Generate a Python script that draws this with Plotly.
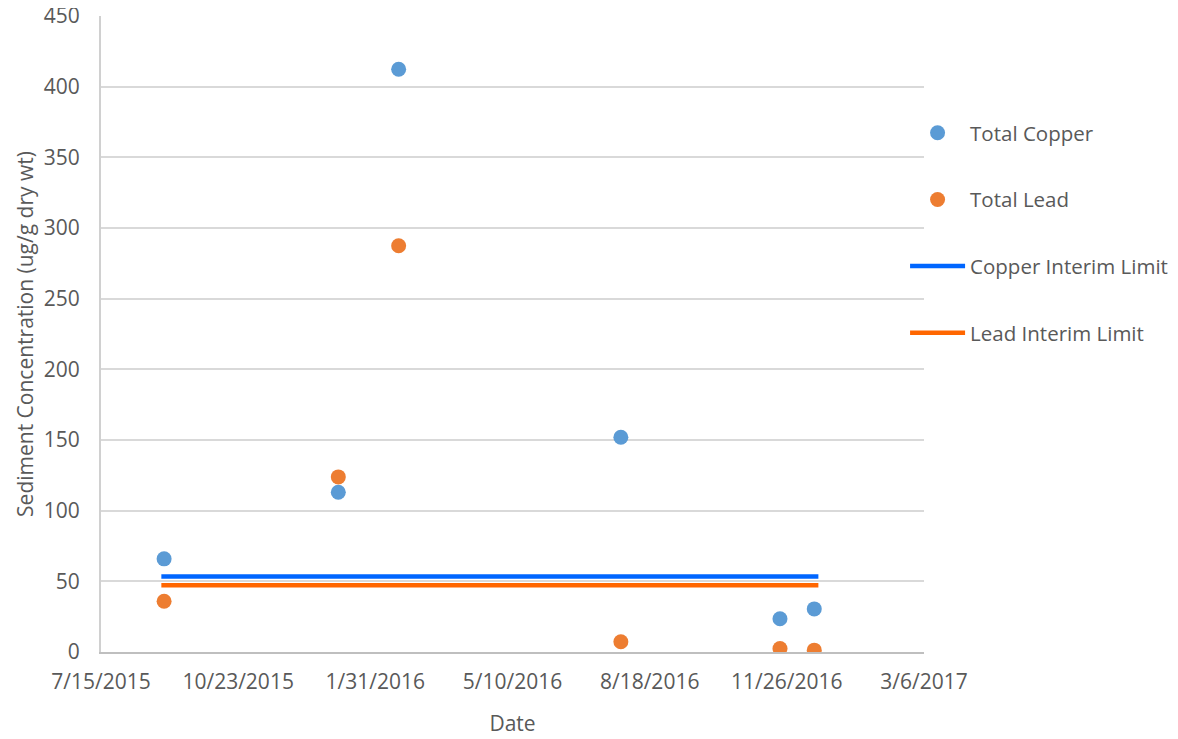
import plotly.graph_objects as go

# Data
sample_dates = ["2015-08-30", "2016-01-04", "2016-02-17", "2016-07-28", "2016-11-21", "2016-12-16"]
total_copper = [65.9, 113.0, 412.3, 151.9, 23.5, 30.5]
total_lead = [35.9, 123.9, 287.4, 7.2, 2.5, 1.3]

limit_dates = ["2015-08-28", "2016-12-19"]
copper_limit = [53.4, 53.4]
lead_limit = [47.2, 47.2]

tick_dates = ["2015-07-15", "2015-10-23", "2016-01-31", "2016-05-10", "2016-08-18", "2016-11-26", "2017-03-06"]
tick_labels = ["7/15/2015", "10/23/2015", "1/31/2016", "5/10/2016", "8/18/2016", "11/26/2016", "3/6/2017"]

FONT = "Open Sans"
TXT = "#595959"
FS = 21

fig = go.Figure()
fig.add_trace(go.Scatter(x=sample_dates, y=total_copper, mode="markers", name="Total Copper",
                         legendgroup="a",
                         marker=dict(color="#5B9BD5", size=15)))
fig.add_trace(go.Scatter(x=sample_dates, y=total_lead, mode="markers", name="Total Lead",
                         legendgroup="b",
                         marker=dict(color="#ED7D31", size=15)))
fig.add_trace(go.Scatter(x=limit_dates, y=copper_limit, mode="lines", name="Copper Interim Limit",
                         legendgroup="c",
                         line=dict(color="#0066FF", width=4.5)))
fig.add_trace(go.Scatter(x=limit_dates, y=lead_limit, mode="lines", name="Lead Interim Limit",
                         legendgroup="d",
                         line=dict(color="#FF6600", width=4.5)))

fig.update_layout(
    width=1170, height=731,
    margin=dict(l=93, r=254, t=8, b=86.5, autoexpand=False),
    paper_bgcolor="white", plot_bgcolor="white",
    font=dict(family=FONT, size=FS, color=TXT),
    showlegend=True,
    legend=dict(x=0.977, xanchor="left", y=0.8475, yanchor="top",
                font=dict(family=FONT, size=20.5, color=TXT),
                tracegroupgap=37, itemwidth=55, bgcolor="rgba(0,0,0,0)"),
)
fig.update_xaxes(
    type="date", automargin=False,
    range=["2015-07-15", "2017-03-06"],
    tickmode="array", tickvals=tick_dates, ticktext=tick_labels,
    showgrid=False, zeroline=False,
    showline=True, linecolor="#BFBFBF", linewidth=2,
    ticks="outside", ticklen=10, tickcolor="rgba(0,0,0,0)",
    ticklabeloverflow="allow",
    tickfont=dict(family=FONT, size=FS, color=TXT),
    title=dict(text="Date", font=dict(family=FONT, size=FS, color=TXT), standoff=22),
)
fig.update_yaxes(
    automargin=False,
    range=[0, 450], dtick=50,
    showgrid=True, gridcolor="#D9D9D9", gridwidth=2,
    zeroline=False,
    showline=True, linecolor="#D0D0D0", linewidth=2,
    ticks="outside", ticklen=15, tickcolor="rgba(0,0,0,0)",
    ticklabeloverflow="allow",
    tickfont=dict(family=FONT, size=FS, color=TXT),
    title=dict(text="Sediment Concentration (ug/g dry wt)", font=dict(family=FONT, size=FS, color=TXT), standoff=4),
)

fig.write_html("out.html")
